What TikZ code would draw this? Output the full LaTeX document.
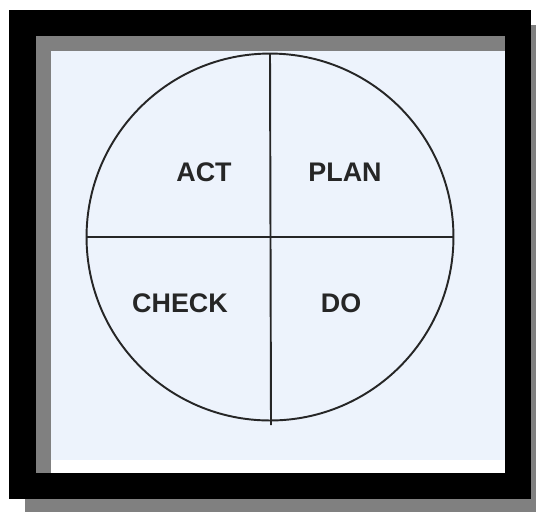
\documentclass[tikz,border=0pt]{standalone}
\usepackage{fontspec}
\setsansfont{Liberation Sans}
\usepackage{tikz}
\usetikzlibrary{positioning}
\definecolor{shadowgray}{RGB}{128,128,128}
\definecolor{paper}{RGB}{237,243,252}
\tikzset{phase/.style={font=\sffamily\bfseries\fontsize{15.3}{18}\selectfont, text=black!85, inner sep=0pt},
       wheel/.style={circle, draw=black!85, line width=1.1pt, minimum size=7.34cm, inner sep=0pt, outer sep=0pt}}

\begin{document}
\begin{tikzpicture}[x=0.02cm, y=-0.02cm]
\useasboundingbox (0,0) rectangle (536,512);
% frame with shadow
\fill [shadowgray] (25,25) rectangle (536,512);
\fill [black] (9,10) rectangle (531,499);
\fill [shadowgray] (36,36) rectangle (505,473);
\fill [white] (51,51) rectangle (505,473);
\fill [paper] (51,51) rectangle (505,460);
% wheel
\node [wheel] (cycle) at (270,237) {};
\coordinate (bottom) at (271,425);
\draw [line width=1.1pt, draw=black!85] (cycle.north) -- (bottom);
\draw [line width=1.1pt, draw=black!85] (cycle.west) -- (cycle.east);
\node [phase] (act) at (204,172) {ACT};
\node [phase] (plan) at (345,172) {PLAN};
\node [phase] (check) at (180,303) {CHECK};
\node [phase] (do) at (341,303) {DO};
\end{tikzpicture}
\end{document}
